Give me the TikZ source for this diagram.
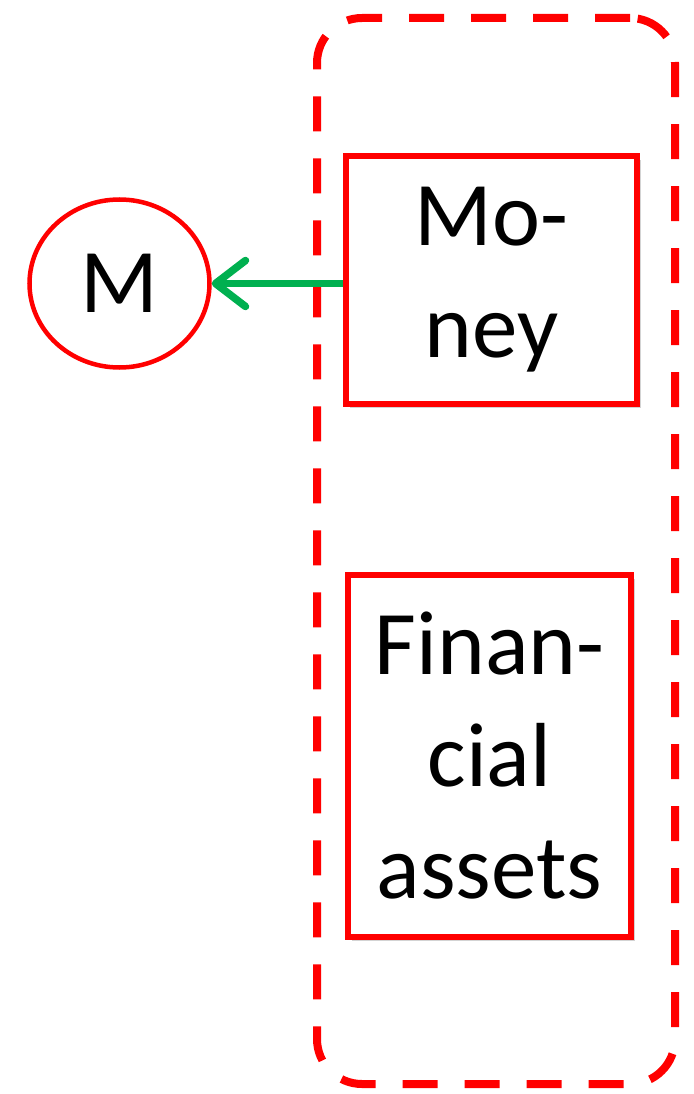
\documentclass[tikz,border=0pt]{standalone}
\usepackage{fontspec}
\setmainfont{Carlito}
\usetikzlibrary{arrows.meta,shapes.geometric,shadows}
\definecolor{boxred}{RGB}{255,0,0}
\definecolor{arrowgreen}{RGB}{0,176,80}

\begin{document}
\begin{tikzpicture}[x=1pt,y=-1pt]
    \tikzset{word/.style = {font=\fontsize{91}{112}\selectfont, align=center, inner sep=0pt}}
    \tikzset{asset/.style = {word, shape=rectangle, draw=boxred, line width=6pt, fill=white,
        drop shadow={opacity=0.35, shadow xshift=4pt, shadow yshift=-4pt}}}
    \tikzset{money/.style = {word, shape=ellipse, draw=boxred, line width=4.5pt}}
    \tikzset{group/.style = {shape=rectangle, draw=boxred, line width=8pt, rounded corners=45pt,
        dash pattern=on 35pt off 27pt}}
    \tikzset{edge/.style = {-{Straight Barb[length=30pt,width=46pt,round]}, draw=arrowgreen, line width=7.5pt}}
    \useasboundingbox (0,0) rectangle (693,1094);
    % vertices
    \node[group, minimum width=358pt, minimum height=1066pt] (G) at (496,551) {};
    \node[money, minimum width=180pt, minimum height=168pt] (M) at (119.5,283.5) {M};
    \node[asset, minimum width=291pt, minimum height=248pt] (Money) at (491.5,280) {Mo-\\ney};
    \node[asset, minimum width=283pt, minimum height=362pt] (Fin) at (489.5,756) {Finan-\\cial\\assets};
    %edges
    \draw[edge] (Money.west |- M.east) -- (M.east);
\end{tikzpicture}
\end{document}
